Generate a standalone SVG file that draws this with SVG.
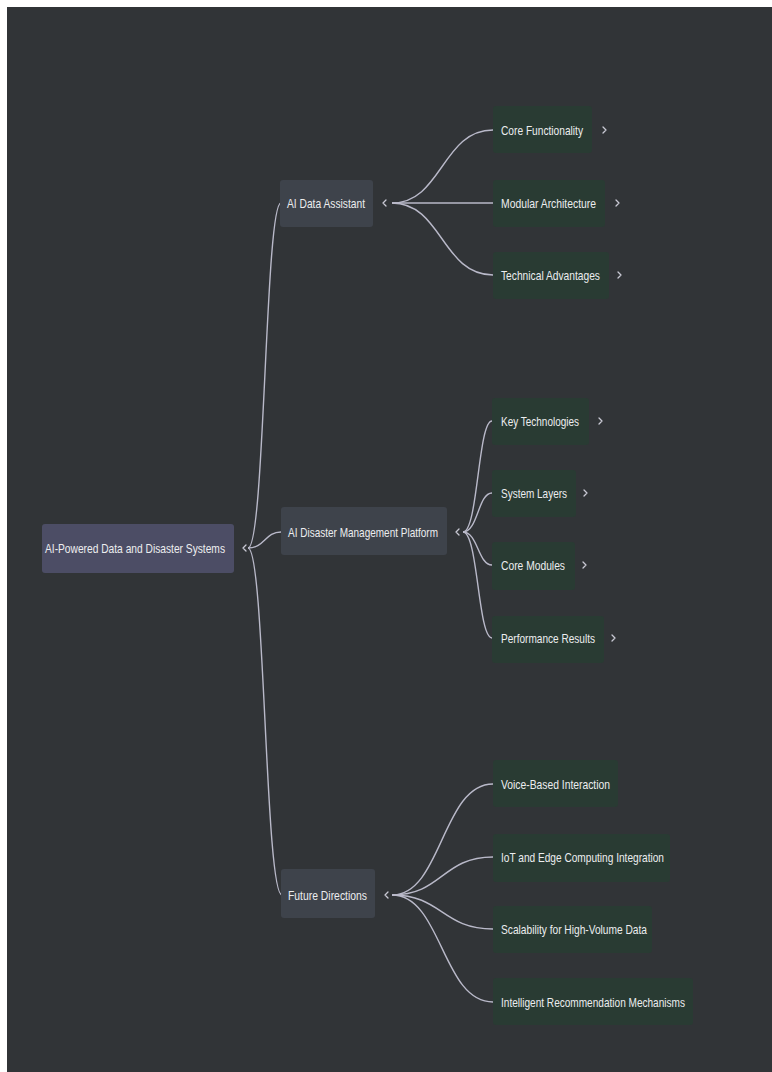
<svg xmlns="http://www.w3.org/2000/svg" width="772" height="1072" viewBox="0 0 772 1072">
<defs>
<style>
.bg{fill:#313437}
.root{fill:#4c4d65}
.l1{fill:#3e434b}
.l2{fill:#293b33}
.t{font-family:"Liberation Sans",Arial,sans-serif;font-size:13px;fill:#ecedef}
.edge{fill:none;stroke:#b9b9c9;stroke-width:1.4}
.chev{fill:none;stroke:#c9c9d4;stroke-width:1.3;stroke-linecap:round;stroke-linejoin:round}
</style>
</defs>
<rect x="0" y="0" width="772" height="1072" fill="#ffffff"/>
<rect class="bg" x="7" y="7" width="765" height="1065"/>
<g id="connectors">
<path class="edge" d="M248,548 C265,548 265,203 281,203"/>
<path class="edge" d="M248,548 C265,548 265,532 281,532"/>
<path class="edge" d="M248,548 C265,548 265,895 282,895"/>
<path class="edge" d="M392,203 C442,203 442,130 493,130"/>
<path class="edge" d="M392,203 L493,203"/>
<path class="edge" d="M392,203 C442,203 442,275 493,275"/>
<path class="edge" d="M463,532 C478,532 478,421 492,421"/>
<path class="edge" d="M463,532 C478,532 478,493 492,493"/>
<path class="edge" d="M463,532 C478,532 478,565 492,565"/>
<path class="edge" d="M463,532 C478,532 478,638 492,638"/>
<path class="edge" d="M392,895 C442,895 442,784 493,784"/>
<path class="edge" d="M392,895 C442,895 442,857 493,857"/>
<path class="edge" d="M392,895 C442,895 442,929 493,929"/>
<path class="edge" d="M392,895 C442,895 442,1002 493,1002"/>
</g>
<g id="root">
<rect class="root" x="42" y="524" width="192" height="49" rx="3"/>
<text class="t" x="45" y="552.5" textLength="180" lengthAdjust="spacingAndGlyphs">AI-Powered Data and Disaster Systems</text>
<path class="chev" d="M246,545 L243,548 L246,551"/>
</g>
<g id="ai-data-assistant">
<rect class="l1" x="280" y="180" width="93" height="47" rx="3"/>
<text class="t" x="287" y="207.5" textLength="78" lengthAdjust="spacingAndGlyphs">AI Data Assistant</text>
<path class="chev" d="M386,200 L383,203 L386,206"/>
</g>
<g id="ai-disaster-platform">
<rect class="l1" x="281" y="507" width="166" height="48" rx="3"/>
<text class="t" x="288" y="536.5" textLength="150" lengthAdjust="spacingAndGlyphs">AI Disaster Management Platform</text>
<path class="chev" d="M459,529 L456,532 L459,535"/>
</g>
<g id="future-directions">
<rect class="l1" x="281" y="869" width="94" height="49" rx="3"/>
<text class="t" x="288" y="899.5" textLength="79" lengthAdjust="spacingAndGlyphs">Future Directions</text>
<path class="chev" d="M388,892 L385,895 L388,898"/>
</g>
<g id="core-functionality">
<rect class="l2" x="493" y="106" width="99" height="47" rx="3"/>
<text class="t" x="501" y="134.5" textLength="82" lengthAdjust="spacingAndGlyphs">Core Functionality</text>
<path class="chev" d="M603,127 L606,130 L603,133"/>
</g>
<g id="modular-architecture">
<rect class="l2" x="493" y="180" width="112" height="47" rx="3"/>
<text class="t" x="501" y="207.5" textLength="95" lengthAdjust="spacingAndGlyphs">Modular Architecture</text>
<path class="chev" d="M616,200 L619,203 L616,206"/>
</g>
<g id="technical-advantages">
<rect class="l2" x="493" y="252" width="116" height="47" rx="3"/>
<text class="t" x="501" y="279.5" textLength="99" lengthAdjust="spacingAndGlyphs">Technical Advantages</text>
<path class="chev" d="M618,272 L621,275 L618,278"/>
</g>
<g id="key-technologies">
<rect class="l2" x="492" y="398" width="97" height="47" rx="3"/>
<text class="t" x="501" y="425.5" textLength="78" lengthAdjust="spacingAndGlyphs">Key Technologies</text>
<path class="chev" d="M599,418 L602,421 L599,424"/>
</g>
<g id="system-layers">
<rect class="l2" x="492" y="470" width="84" height="47" rx="3"/>
<text class="t" x="501" y="497.5" textLength="66" lengthAdjust="spacingAndGlyphs">System Layers</text>
<path class="chev" d="M584,490 L587,493 L584,496"/>
</g>
<g id="core-modules">
<rect class="l2" x="492" y="542" width="83" height="48" rx="3"/>
<text class="t" x="501" y="569.5" textLength="64" lengthAdjust="spacingAndGlyphs">Core Modules</text>
<path class="chev" d="M583,562 L586,565 L583,568"/>
</g>
<g id="performance-results">
<rect class="l2" x="492" y="616" width="112" height="47" rx="3"/>
<text class="t" x="501" y="642.5" textLength="94" lengthAdjust="spacingAndGlyphs">Performance Results</text>
<path class="chev" d="M612,635 L615,638 L612,641"/>
</g>
<g id="voice-based-interaction">
<rect class="l2" x="493" y="760" width="125" height="47" rx="3"/>
<text class="t" x="501" y="788.5" textLength="109" lengthAdjust="spacingAndGlyphs">Voice-Based Interaction</text>
</g>
<g id="iot-edge">
<rect class="l2" x="493" y="834" width="177" height="48" rx="3"/>
<text class="t" x="501" y="861.5" textLength="163" lengthAdjust="spacingAndGlyphs">IoT and Edge Computing Integration</text>
</g>
<g id="scalability">
<rect class="l2" x="493" y="906" width="159" height="47" rx="3"/>
<text class="t" x="501" y="933.5" textLength="146" lengthAdjust="spacingAndGlyphs">Scalability for High-Volume Data</text>
</g>
<g id="intelligent-recommendation">
<rect class="l2" x="493" y="978" width="200" height="47" rx="3"/>
<text class="t" x="501" y="1006.5" textLength="184" lengthAdjust="spacingAndGlyphs">Intelligent Recommendation Mechanisms</text>
</g>
</svg>
